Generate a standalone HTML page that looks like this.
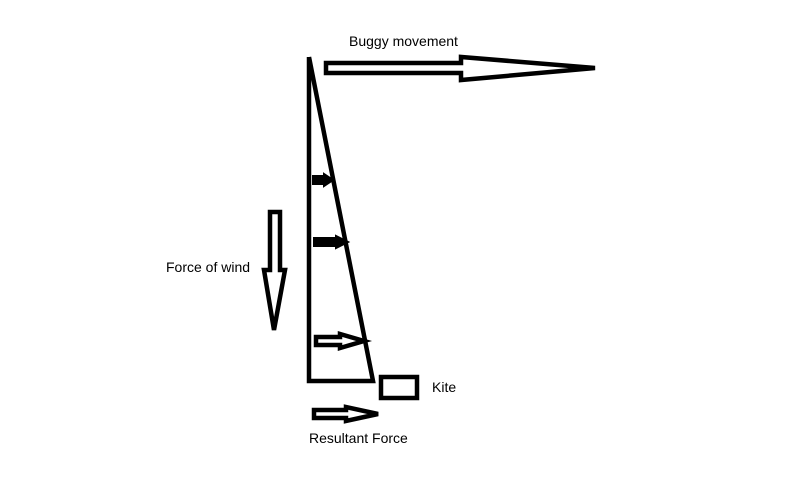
<!DOCTYPE html>
<html><head><meta charset="utf-8"><style>
html,body{margin:0;padding:0;background:#fff;}
svg{display:block}
text{font-family:"Liberation Sans",sans-serif;font-size:14px;fill:#000}
</style></head><body>
<svg width="808" height="494" viewBox="0 0 808 494" xmlns="http://www.w3.org/2000/svg">
<g fill="none" stroke="#000" stroke-width="4.5" stroke-linejoin="miter">
<polyline points="309,57 309,381 373,381 309,57"/>
<polygon points="326,63 461,63 461,57 595,68 461,80 461,73 326,73"/>
<polygon points="270,212 280,212 280,270 285,270 274,330 264,270 270,270"/>
<polygon points="316,337 340,337 340,334 364,341 340,348 340,345 316,345"/>
<polygon points="314,410 346,410 346,407 378,414 346,421 346,418 314,418"/>
<rect x="381" y="377" width="36" height="21"/>
</g>
<g fill="#000" stroke="#000" stroke-width="2">
<polygon points="313,176 324,176 324,174 333,180 324,186 324,184 313,184"/>
<polygon points="314,238 336,238 336,236 348,242 336,248 336,246 314,246"/>
</g>
<text x="349" y="46">Buggy movement</text>
<text x="166" y="272">Force of wind</text>
<text x="432" y="392">Kite</text>
<text x="309" y="443">Resultant Force</text>
</svg>
</body></html>
